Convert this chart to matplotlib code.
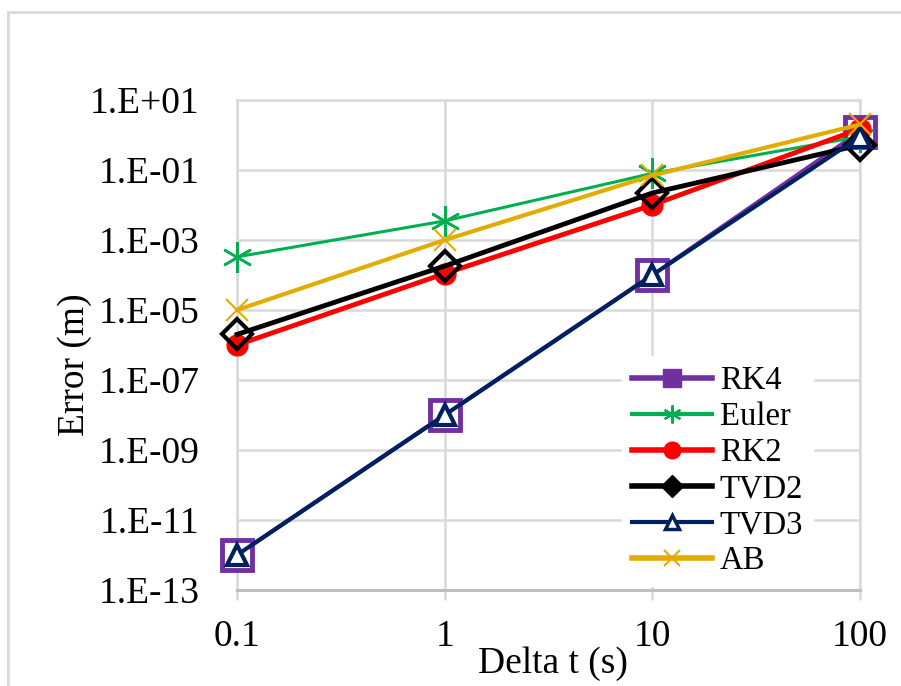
import matplotlib
matplotlib.use("Agg")
import matplotlib.pyplot as plt
from matplotlib.lines import Line2D
from matplotlib.ticker import FixedLocator, FixedFormatter, NullLocator

plt.rcParams['font.family'] = ['Liberation Serif', 'DejaVu Serif']

# --- data ---
dt = [0.1, 1, 10, 100]
rk4 = [1.0e-12, 1.0e-8, 1.0e-4, 1.25]
euler = [3.3e-4, 3.5e-3, 0.08, 0.9]
rk2 = [1.0e-6, 1.1e-4, 0.010, 1.5]
tvd2 = [2.0e-6, 1.8e-4, 0.022, 0.52]
tvd3 = [1.0e-12, 1.0e-8, 1.0e-4, 0.9]
ab = [1.0e-5, 1.0e-3, 0.07, 2.0]

y_exps = [1, -1, -3, -5, -7, -9, -11, -13]
x_labels = ['0.1', '1', '10', '100']

fig = plt.figure(figsize=(9.01, 6.86), dpi=100)
ax = fig.add_axes([237 / 901, 1 - 590 / 686, (860 - 237) / 901, (590 - 100) / 686])

grid_c = '#D9D9D9'
purple, green, red, navy, gold = '#7030A0', '#00B050', '#FF0000', '#002060', '#E3AC00'

ax.plot(dt, rk4, color=purple, lw=3, marker='s', ms=22, mew=3.5,
        mfc='white', mec=purple, zorder=3, clip_on=False)
ax.plot(dt, euler, color=green, lw=2.2, marker=(6, 2, 0), ms=22, mew=1.8,
        mec=green, zorder=4, clip_on=False)
ax.plot(dt, rk2, color=red, lw=3.5, marker='o', ms=15,
        mfc=red, mec=red, zorder=5, clip_on=False)
ax.plot(dt, tvd2, color='black', lw=3.5, marker='D', ms=15, mew=3,
        mfc='none', mec='black', zorder=6, clip_on=False)
ax.plot(dt, tvd3, color=navy, lw=3, marker='^', ms=15, mew=3,
        mfc='white', mec=navy, zorder=7, clip_on=False)
ax.plot(dt, ab, color=gold, lw=3, marker='x', ms=16, mew=1.5,
        mec=gold, zorder=8, clip_on=False)

ax.set_xscale('log')
ax.set_yscale('log')
ax.set_xlim(0.1, 100)
ax.set_ylim(1e-13, 1e1)

ax.yaxis.set_major_locator(FixedLocator([10.0 ** e for e in y_exps]))
ax.yaxis.set_major_formatter(FixedFormatter([f"1.E{e:+03d}" for e in y_exps]))
ax.yaxis.set_minor_locator(NullLocator())
ax.xaxis.set_major_locator(FixedLocator(dt))
ax.xaxis.set_major_formatter(FixedFormatter(x_labels))
ax.xaxis.set_minor_locator(NullLocator())

ax.grid(True, color=grid_c, lw=1.8, zorder=0)
ax.set_axisbelow(True)
for s in ax.spines.values():
    s.set_color(grid_c)
    s.set_linewidth(1.8)
ax.spines['bottom'].set_color('#BFBFBF')
ax.spines['bottom'].set_linewidth(2.2)

ax.tick_params(axis='y', length=0, pad=27, labelsize=27)
ax.tick_params(axis='x', length=7, width=1.8, color=grid_c, pad=14, labelsize=27)

fig.text(553 / 901, 1 - 664 / 686, 'Delta t (s)', ha='center', va='center', fontsize=27)
fig.text(75 / 901, 1 - 365 / 686, 'Error (m)', ha='center', va='center',
         rotation=90, fontsize=27)

# legend keys drawn as in the original (filled markers, smaller)
handles = [
    Line2D([], [], color=purple, lw=4, marker='s', ms=13, mfc=purple, mec=purple),
    Line2D([], [], color=green, lw=3, marker=(6, 2, 0), ms=13, mew=1.5, mec=green),
    Line2D([], [], color=red, lw=4, marker='o', ms=12, mfc=red, mec=red),
    Line2D([], [], color='black', lw=4, marker='D', ms=11, mfc='black', mec='black'),
    Line2D([], [], color=navy, lw=3, marker='^', ms=10, mew=2.5, mfc='white', mec=navy),
    Line2D([], [], color=gold, lw=4, marker='x', ms=12, mew=1.5, mec=gold),
]
labels = ['RK4', 'Euler', 'RK2', 'TVD2', 'TVD3', 'AB']
leg = ax.legend(handles, labels, loc='upper left', bbox_to_anchor=(0.618, 0.478),
                fontsize=23.5, frameon=True, framealpha=1, edgecolor='white',
                fancybox=False, handlelength=2.45, handletextpad=0.25,
                labelspacing=0.17, borderpad=0.3, borderaxespad=0)
leg.set_zorder(10)

# light border around the chart area
fig.add_artist(Line2D([8 / 901, 8 / 901], [0, 1 - 12 / 686], color=grid_c, lw=2))
fig.add_artist(Line2D([8 / 901, 1], [1 - 12 / 686, 1 - 12 / 686], color=grid_c, lw=2))

fig.savefig('out.png', dpi=100)
